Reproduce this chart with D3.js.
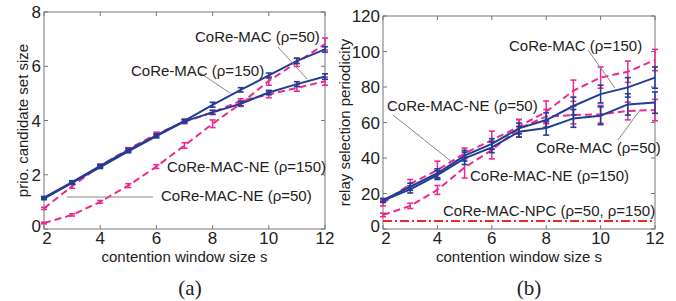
<!DOCTYPE html>
<html>
<head>
<meta charset="utf-8">
<script src="https://cdn.jsdelivr.net/npm/d3@7"></script>
<style>
  body { margin: 0; background: #fff; }
  svg text { font-family: "Liberation Sans", Arial, sans-serif; fill: #222; }
</style>
</head>
<body>
<div id="chart"></div>
<script>
// contention window sizes
var sizes = [2, 3, 4, 5, 6, 7, 8, 9, 10, 11, 12];

// (a) prio. candidate set size
var setMac50 = [1.12, 1.70, 2.28, 2.86, 3.42, 3.97, 4.30, 4.62, 5.03, 5.34, 5.62];
var setMac50Err = [0.04, 0.05, 0.05, 0.05, 0.06, 0.06, 0.07, 0.08, 0.08, 0.09, 0.10];
var setMac150 = [1.16, 1.73, 2.33, 2.91, 3.45, 3.99, 4.58, 5.13, 5.66, 6.20, 6.62];
var setMac150Err = [0.04, 0.05, 0.05, 0.06, 0.06, 0.06, 0.09, 0.08, 0.09, 0.10, 0.10];
var setNe50 = [0.76, 1.58, 2.33, 2.94, 3.50, 3.95, 4.30, 4.72, 4.96, 5.20, 5.45];
var setNe50Err = [0.04, 0.08, 0.06, 0.06, 0.07, 0.07, 0.08, 0.08, 0.12, 0.12, 0.15];
var setNe150 = [0.22, 0.52, 1.00, 1.60, 2.30, 3.08, 3.88, 4.62, 5.46, 6.14, 6.82];
var setNe150Err = [0.03, 0.04, 0.05, 0.07, 0.07, 0.10, 0.14, 0.10, 0.16, 0.15, 0.22];

// (b) relay selection periodicity
var perMac50 = [16.0, 22.3, 30.4, 39.8, 46.0, 54.8, 56.9, 62.3, 63.8, 70.2, 71.2];
var perMac50Err = [1.0, 2.0, 2.5, 3.5, 3.0, 3.0, 4.0, 5.0, 5.0, 6.0, 6.0];
var perMac150 = [16.2, 23.8, 31.4, 41.3, 47.9, 56.7, 61.4, 69.3, 76.0, 79.8, 85.3];
var perMac150Err = [1.0, 2.0, 2.5, 3.0, 3.0, 3.0, 4.0, 5.0, 5.0, 5.5, 6.0];
var perNe50 = [14.5, 25.4, 33.2, 42.6, 50.1, 57.7, 66.1, 77.9, 85.3, 88.6, 95.2];
var perNe50Err = [1.5, 2.5, 5.0, 3.0, 5.0, 4.0, 6.0, 6.0, 6.0, 6.0, 6.0];
var perNe150 = [7.9, 13.0, 22.0, 34.7, 44.5, 56.7, 63.3, 64.2, 64.6, 66.5, 67.0];
var perNe150Err = [1.0, 1.5, 2.5, 6.0, 5.0, 5.0, 4.0, 5.0, 5.0, 5.0, 6.0];
var perNpc = [4.5, 4.5, 4.5, 4.5, 4.5, 4.5, 4.5, 4.5, 4.5, 4.5, 4.5];

// ticks
var xTicks = [2, 4, 6, 8, 10, 12];
var setTicks = [0, 2, 4, 6, 8];
var perTicks = [0, 20, 40, 60, 80, 100, 120];

var blue = "#223d94", magenta = "#ec2a8e", red = "#e82a22", grey = "#777";

var svg = d3.select("#chart").append("svg")
    .attr("width", 676).attr("height", 301);

function panel(o) {
  var x = d3.scaleLinear().domain([2, 12]).range([o.left, o.right]);
  var y = d3.scaleLinear().domain([0, o.ymax]).range([o.bottom, o.top]);
  var g = svg.append("g");

  // box
  g.append("rect")
    .attr("x", o.left).attr("y", o.top)
    .attr("width", o.right - o.left).attr("height", o.bottom - o.top)
    .attr("fill", "none").attr("stroke", grey).attr("stroke-width", 1);

  // inner ticks on all sides
  var tl = 4;
  xTicks.forEach(function(t) {
    g.append("line").attr("x1", x(t)).attr("x2", x(t)).attr("y1", o.bottom).attr("y2", o.bottom - tl).attr("stroke", grey);
    g.append("line").attr("x1", x(t)).attr("x2", x(t)).attr("y1", o.top).attr("y2", o.top + tl).attr("stroke", grey);
    g.append("text").attr("x", x(t) + (t === 2 ? 3 : 0)).attr("y", o.bottom + 15)
      .attr("text-anchor", "middle").attr("font-size", 17).text(t);
  });
  o.yTicks.forEach(function(t) {
    g.append("line").attr("x1", o.left).attr("x2", o.left + tl).attr("y1", y(t)).attr("y2", y(t)).attr("stroke", grey);
    g.append("line").attr("x1", o.right).attr("x2", o.right - tl).attr("y1", y(t)).attr("y2", y(t)).attr("stroke", grey);
    g.append("text").attr("x", o.left - 3).attr("y", y(t) + (t === 0 ? 3 : 6))
      .attr("text-anchor", "end").attr("font-size", 17).text(t);
  });

  // axis titles
  g.append("text").attr("x", (o.left + o.right) / 2).attr("y", 262)
    .attr("text-anchor", "middle").attr("font-size", 15).text("contention window size s");
  g.append("text")
    .attr("transform", "translate(" + o.ylabX + "," + (o.top + o.bottom) / 2 + ") rotate(-90)")
    .attr("text-anchor", "middle").attr("font-size", 15).text(o.ylabel);

  // series
  var line = d3.line().x(function(d) { return x(d[0]); }).y(function(d) { return y(d[1]); });
  o.series.forEach(function(s) {
    var pts = sizes.map(function(v, i) { return [v, s.vals[i], s.err ? s.err[i] : 0]; });
    if (s.err) {
      pts.forEach(function(p) {
        var cx = x(p[0]);
        g.append("line").attr("x1", cx).attr("x2", cx)
          .attr("y1", y(p[1] - p[2])).attr("y2", y(p[1] + p[2]))
          .attr("stroke", s.color).attr("stroke-width", 1.5);
        [p[1] - p[2], p[1] + p[2]].forEach(function(e) {
          g.append("line").attr("x1", cx - 3).attr("x2", cx + 3)
            .attr("y1", y(e)).attr("y2", y(e))
            .attr("stroke", s.color).attr("stroke-width", 1.6);
        });
      });
    }
    g.append("path").datum(pts).attr("d", line)
      .attr("fill", "none").attr("stroke", s.color)
      .attr("stroke-width", s.width || 2)
      .attr("stroke-dasharray", s.dash || null);
  });

  // annotations
  o.notes.forEach(function(n) {
    if (n.ptr) {
      g.append("line").attr("x1", n.ptr[0]).attr("y1", n.ptr[1])
        .attr("x2", n.ptr[2]).attr("y2", n.ptr[3])
        .attr("stroke", "#888").attr("stroke-width", 1);
    }
    g.append("text").attr("x", n.x).attr("y", n.y)
      .attr("font-size", 15).text(n.text);
  });
}

panel({
  left: 44, right: 325, top: 12, bottom: 229, ymax: 8,
  yTicks: setTicks, ylabel: "prio. candidate set size", ylabX: 28,
  series: [
    {vals: setNe50, err: setNe50Err, color: magenta, dash: "7,4"},
    {vals: setNe150, err: setNe150Err, color: magenta, dash: "7,4"},
    {vals: setMac50, err: setMac50Err, color: blue},
    {vals: setMac150, err: setMac150Err, color: blue}
  ],
  notes: [
    {text: "CoRe-MAC (\u03c1=50)", x: 195, y: 42, ptr: [278, 47, 307, 79]},
    {text: "CoRe-MAC (\u03c1=150)", x: 131, y: 76, ptr: [200, 73, 230, 93]},
    {text: "CoRe-MAC-NE (\u03c1=150)", x: 167, y: 172},
    {text: "CoRe-MAC-NE (\u03c1=50)", x: 161, y: 201, ptr: [153, 197, 67, 197]}
  ]
});

panel({
  left: 383, right: 655, top: 16, bottom: 229, ymax: 120,
  yTicks: perTicks, ylabel: "relay selection periodicity", ylabX: 350,
  series: [
    {vals: perNe50, err: perNe50Err, color: magenta, dash: "7,4"},
    {vals: perNe150, err: perNe150Err, color: magenta, dash: "7,4"},
    {vals: perMac50, err: perMac50Err, color: blue},
    {vals: perMac150, err: perMac150Err, color: blue},
    {vals: perNpc, color: red, dash: "9,3,2,3", width: 2}
  ],
  notes: [
    {text: "CoRe-MAC (\u03c1=150)", x: 509, y: 51, ptr: [588, 50, 615, 88]},
    {text: "CoRe-MAC-NE (\u03c1=50)", x: 387, y: 111, ptr: [393, 115, 452, 162]},
    {text: "CoRe-MAC (\u03c1=50)", x: 536, y: 153, ptr: [618, 140, 640, 110]},
    {text: "CoRe-MAC-NE (\u03c1=150)", x: 470, y: 181},
    {text: "CoRe-MAC-NPC (\u03c1=50, \u03c1=150)", x: 443, y: 216}
  ]
});

// sub-figure captions
svg.append("text").attr("x", 190).attr("y", 295).attr("text-anchor", "middle")
  .style("font-family", "'Liberation Serif', 'Times New Roman', serif")
  .attr("font-size", 21).text("(a)");
svg.append("text").attr("x", 529).attr("y", 295).attr("text-anchor", "middle")
  .style("font-family", "'Liberation Serif', 'Times New Roman', serif")
  .attr("font-size", 21).text("(b)");
</script>
</body>
</html>
